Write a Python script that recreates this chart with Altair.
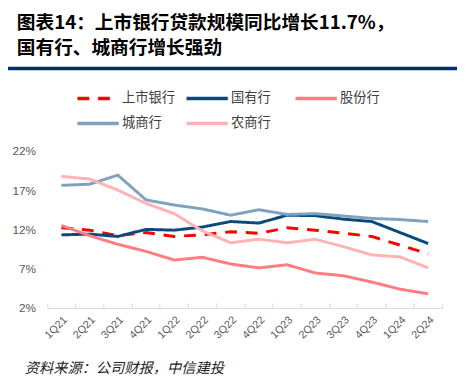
import altair as alt
import pandas as pd

quarters = ["1Q21", "2Q21", "3Q21", "4Q21", "1Q22", "2Q22", "3Q22", "4Q22",
            "1Q23", "2Q23", "3Q23", "4Q23", "1Q24", "2Q24"]
series_names = ["上市银行", "国有行", "股份行", "城商行", "农商行"]
listed = [12.2, 11.9, 11.2, 11.6, 11.1, 11.3, 11.7, 11.5, 12.2, 11.9, 11.5, 11.1, 10.0, 8.9]
state = [11.3, 11.4, 11.1, 12.0, 11.9, 12.3, 13.0, 12.8, 13.8, 13.75, 13.3, 13.0, 11.6, 10.2]
joint = [12.5, 11.2, 10.1, 9.2, 8.1, 8.45, 7.6, 7.1, 7.5, 6.45, 6.1, 5.3, 4.4, 3.8]
city = [17.6, 17.75, 18.9, 15.75, 15.1, 14.6, 13.8, 14.5, 13.9, 14.0, 13.7, 13.4, 13.25, 13.0]
rural = [18.75, 18.4, 17.0, 15.3, 14.0, 11.8, 10.3, 10.75, 10.3, 10.75, 9.8, 8.75, 8.5, 7.1]
y_ticks = [2, 7, 12, 17, 22]

colors = ["#FF0000", "#0A4A7A", "#FF7C80", "#7FA3BF", "#FFB3B5"]
dashes = [[12, 9], [1, 0], [1, 0], [1, 0], [1, 0]]

title1 = "图表14：上市银行贷款规模同比增长11.7%，"
title2 = "国有行、城商行增长强劲"
source = "资料来源：公司财报，中信建投"

rows = []
for name, vals in zip(series_names, [listed, state, joint, city, rural]):
    for q, v in zip(quarters, vals):
        rows.append({"quarter": q, "series": name, "value": v})
df = pd.DataFrame(rows)

CJK = "Noto Sans CJK SC"

legend = alt.Legend(
    orient="none", legendX=42.7, legendY=-62.3, direction="horizontal", columns=3,
    symbolType="M-3,0H3", symbolSize=196, symbolStrokeWidth=3.5,
    labelFont=CJK, labelFontSize=13.5, labelColor="#404040", labelOffset=15.3,
    columnPadding=4, rowPadding=9.6, gridAlign="all", title=None, padding=0,
    labelLimit=200,
)

xscale = alt.Scale(type="band", paddingInner=0, paddingOuter=0)

lines = alt.Chart(df).mark_line(strokeWidth=3).encode(
    x=alt.X("quarter:N", sort=quarters, bandPosition=0.5, scale=xscale,
            axis=alt.Axis(title=None, labelAngle=-45, ticks=False, grid=False,
                          domainColor="#D9D9D9", domainWidth=1, labelOverlap=False,
                          labelFont="Liberation Sans", labelFontSize=11,
                          labelColor="#595959", labelPadding=6, bandPosition=0.5)),
    y=alt.Y("value:Q", scale=alt.Scale(domain=[2, 22], nice=False, zero=False),
            axis=alt.Axis(values=y_ticks, labelExpr="datum.value + '%'", domain=False,
                          ticks=False, grid=False, title=None, labelOverlap=False,
                          labelFont="Liberation Sans", labelFontSize=12,
                          labelColor="#595959", labelPadding=12)),
    color=alt.Color("series:N", scale=alt.Scale(domain=series_names, range=colors),
                    legend=legend),
    strokeDash=alt.StrokeDash("series:N", scale=alt.Scale(domain=series_names, range=dashes),
                              legend=legend),
)

tick_layer = alt.Chart(df).mark_point(opacity=0).encode(
    x=alt.X("quarter:N", sort=quarters, scale=xscale,
            axis=alt.Axis(orient="top", offset=-160, labels=False, domain=False,
                          ticks=True, tickSize=5, tickColor="#D9D9D9", tickWidth=1,
                          bandPosition=1, tickExtra=True, title=None, grid=False)),
)

t1 = alt.Chart(pd.DataFrame({"t": [title1]})).mark_text(
    align="left", baseline="middle", font=CJK, fontSize=19, fontWeight="bold", color="#000000"
).encode(text="t:N", x=alt.value(-31), y=alt.value(-130))

t2 = alt.Chart(pd.DataFrame({"t": [title2]})).mark_text(
    align="left", baseline="middle", font=CJK, fontSize=19, fontWeight="bold", color="#000000"
).encode(text="t:N", x=alt.value(-31), y=alt.value(-104))

rule = alt.Chart(pd.DataFrame({"r": [0]})).mark_rule(color="#00306B", strokeWidth=3.5).encode(
    x=alt.value(-40), x2=alt.value(417), y=alt.value(-83.7)
)

foot = alt.Chart(pd.DataFrame({"t": [source]})).mark_text(
    align="left", baseline="middle", font=CJK, fontSize=14.5, fontStyle="italic", color="#222222"
).encode(text="t:N", x=alt.value(-23), y=alt.value(222))

chart = alt.layer(lines, tick_layer, t1, t2, rule, foot).resolve_axis(
    x="independent"
).properties(
    width=402, height=160,
    autosize=alt.AutoSizeParams(type="none"),
    padding={"left": 40, "top": 142, "right": 15, "bottom": 71},
).configure_view(stroke=None)

chart.save("out.html", embed_options={"renderer": "svg", "actions": False})
